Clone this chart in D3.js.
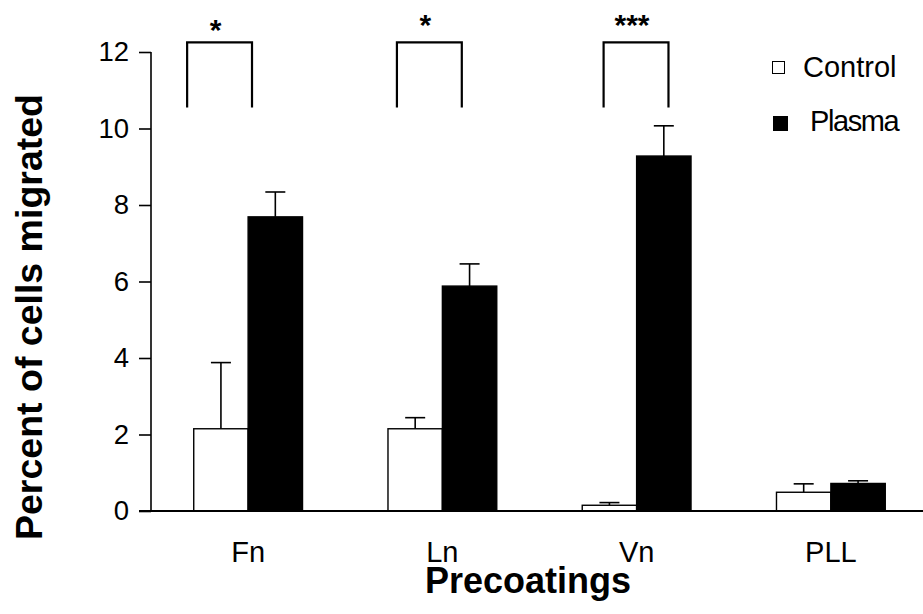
<!DOCTYPE html>
<html>
<head>
<meta charset="utf-8">
<script src="https://cdn.jsdelivr.net/npm/d3@7"></script>
<style>
  body { margin: 0; background: #fff; }
  text { font-family: "Liberation Sans", Arial, sans-serif; fill: #000; }
</style>
</head>
<body>
<script>
// chart values
var categories = ["Fn", "Ln", "Vn", "PLL"];
var seriesNames = ["Control", "Plasma"];
var controlMean = [2.15, 2.15, 0.15, 0.49];
var controlErr  = [1.73, 0.29, 0.07, 0.22];
var plasmaMean  = [7.69, 5.88, 9.28, 0.72];
var plasmaErr   = [0.65, 0.58, 0.79, 0.07];
var yTicks = [0, 2, 4, 6, 8, 10, 12];
var sigLabels = ["*", "*", "***"];   // for Fn, Ln, Vn

var width = 923, height = 614;
var svg = d3.select("body").append("svg")
    .attr("width", width)
    .attr("height", height);

var y = d3.scaleLinear().domain([0, 12]).range([511, 52]);
var x = d3.scaleBand().domain(categories).range([151, 928]).padding(0);
var bw = x.bandwidth();
var xs = d3.scaleBand().domain(seriesNames).range([bw * 0.22, bw * 0.78]);

// flatten into bar records
var bars = [];
categories.forEach(function (c, i) {
  bars.push({cat: c, s: "Control", v: controlMean[i], e: controlErr[i]});
  bars.push({cat: c, s: "Plasma", v: plasmaMean[i], e: plasmaErr[i]});
});

// error bars (upper only), drawn first so bars sit on top
var eb = svg.append("g").attr("class", "errors");
bars.forEach(function (d) {
  var cx = x(d.cat) + xs(d.s) + xs.bandwidth() / 2;
  eb.append("line")
    .attr("x1", cx).attr("x2", cx)
    .attr("y1", y(d.v)).attr("y2", y(d.v + d.e))
    .attr("stroke", "#000").attr("stroke-width", 1.6);
  eb.append("line")
    .attr("x1", cx - 10).attr("x2", cx + 10)
    .attr("y1", y(d.v + d.e)).attr("y2", y(d.v + d.e))
    .attr("stroke", "#000").attr("stroke-width", 1.6);
});

svg.append("g").selectAll("rect")
  .data(bars)
  .enter().append("rect")
    .attr("x", function (d) { return x(d.cat) + xs(d.s); })
    .attr("y", function (d) { return y(d.v); })
    .attr("width", xs.bandwidth())
    .attr("height", function (d) { return y(0) - y(d.v); })
    .attr("fill", function (d) { return d.s === "Control" ? "#fff" : "#000"; })
    .attr("stroke", "#000")
    .attr("stroke-width", 1.4);

// y axis
var yAxis = d3.axisLeft(y).tickValues(yTicks).tickSize(12).tickPadding(10);
var gy = svg.append("g").attr("transform", "translate(151,0)").call(yAxis);
gy.select(".domain").attr("d", "M0," + y(12) + "V" + y(0)).attr("stroke-width", 1.6);
gy.selectAll(".tick line").attr("stroke-width", 1.6);
gy.selectAll("text")
  .style("font-family", '"Liberation Sans", Arial, sans-serif')
  .style("font-size", "27.5px");

// x baseline and category labels
svg.append("line")
  .attr("x1", 139).attr("x2", width)
  .attr("y1", y(0)).attr("y2", y(0))
  .attr("stroke", "#000").attr("stroke-width", 1.8);

svg.append("g").selectAll("text")
  .data(categories)
  .enter().append("text")
    .attr("x", function (d) { return x(d) + bw / 2; })
    .attr("y", 562)
    .attr("text-anchor", "middle")
    .style("font-size", "29px")
    .text(function (d) { return d; });

// axis titles
svg.append("text")
  .attr("x", 528).attr("y", 593)
  .attr("text-anchor", "middle")
  .style("font-size", "36px").style("font-weight", "bold")
  .text("Precoatings");

svg.append("text")
  .attr("transform", "translate(42,317) rotate(-90)")
  .attr("text-anchor", "middle")
  .style("font-size", "37.5px").style("font-weight", "bold")
  .text("Percent of cells migrated");

// significance brackets (hand placed in the original)
var bracketShift = [-0.147, -0.067, -0.003];
var bracketHalf = 0.167;
var starY = [39.5, 34.5, 34.5];
sigLabels.forEach(function (lab, i) {
  var c = x(categories[i]) + bw / 2 + bracketShift[i] * bw;
  var l = c - bracketHalf * bw, r = c + bracketHalf * bw;
  svg.append("path")
    .attr("d", "M" + l + "," + y(10.55) + "V" + y(12.25) + "H" + r + "V" + y(10.55))
    .attr("fill", "none").attr("stroke", "#000").attr("stroke-width", 2.2);
  svg.append("text")
    .attr("x", c - 4).attr("y", starY[i])
    .attr("text-anchor", "middle")
    .style("font-size", "30px").style("font-weight", "bold")
    .text(lab);
});

// legend
var legend = svg.append("g");
legend.append("rect")
  .attr("x", 772.5).attr("y", 61.5).attr("width", 12).attr("height", 12)
  .attr("fill", "#fff").attr("stroke", "#000").attr("stroke-width", 1);
legend.append("text").attr("x", 803).attr("y", 77)
  .style("font-size", "29px").text(seriesNames[0]);
legend.append("rect")
  .attr("x", 773).attr("y", 116).attr("width", 15).attr("height", 15)
  .attr("fill", "#000");
legend.append("text").attr("x", 810).attr("y", 131)
  .style("font-size", "29px").style("letter-spacing", "-1.4px")
  .text(seriesNames[1]);
</script>
</body>
</html>
